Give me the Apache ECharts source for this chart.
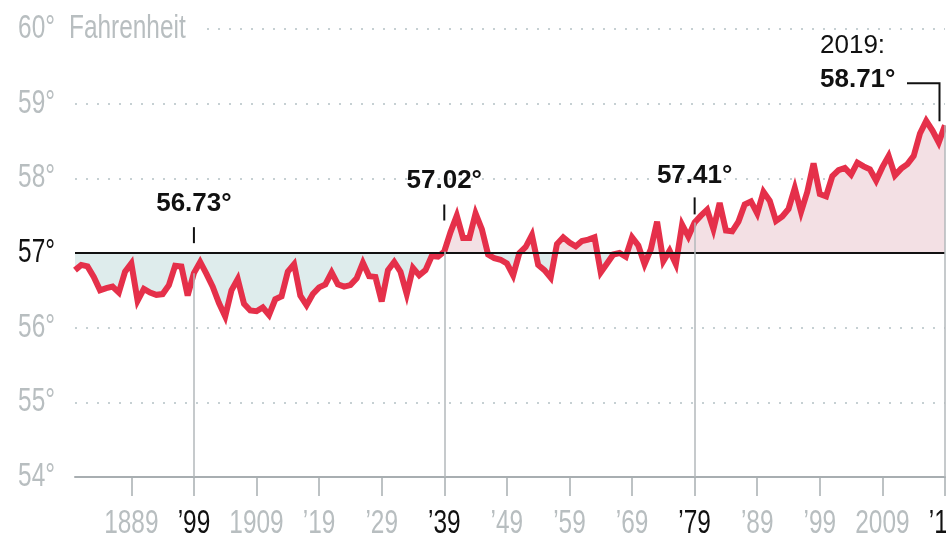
<!DOCTYPE html>
<html><head><meta charset="utf-8">
<script src="https://cdn.jsdelivr.net/npm/echarts@6/dist/echarts.min.js"></script>
<style>html,body{margin:0;padding:0;background:#fff}#c{width:946px;height:541px}</style>
</head><body><div id="c"></div>
<script>
// ---------- data ----------
const startYear = 1880;
const temps = [
  56.77, 56.84, 56.82, 56.68, 56.50, 56.53, 56.55, 56.47, 56.75, 56.86,
  56.36, 56.52, 56.47, 56.44, 56.45, 56.57, 56.83, 56.82, 56.43, 56.73,
  56.88, 56.72, 56.55, 56.33, 56.15, 56.50, 56.65, 56.32, 56.23, 56.22,
  56.27, 56.17, 56.38, 56.42, 56.75, 56.85, 56.43, 56.30, 56.45, 56.54,
  56.58, 56.74, 56.58, 56.55, 56.57, 56.66, 56.87, 56.69, 56.68, 56.35,
  56.77, 56.88, 56.75, 56.45, 56.80, 56.70, 56.77, 56.96, 56.95, 57.02,
  57.28, 57.50, 57.20, 57.20, 57.53, 57.32, 56.98, 56.93, 56.91, 56.86,
  56.70, 57.00, 57.08, 57.24, 56.84, 56.77, 56.67, 57.12, 57.21, 57.14,
  57.09, 57.16, 57.18, 57.21, 56.74, 56.86, 56.98, 57.00, 56.95, 57.21,
  57.10, 56.85, 57.05, 57.42, 56.89, 57.03, 56.85, 57.38, 57.22, 57.41,
  57.50, 57.58, 57.32, 57.67, 57.30, 57.29, 57.42, 57.65, 57.69, 57.53,
  57.82, 57.70, 57.43, 57.49, 57.59, 57.87, 57.55, 57.82, 58.20, 57.79,
  57.76, 58.03, 58.11, 58.14, 58.05, 58.21, 58.16, 58.12, 57.97, 58.15,
  58.30, 58.04, 58.13, 58.19, 58.30, 58.60, 58.77, 58.64, 58.48, 58.71
];
const years = temps.map((_, i) => String(startYear + i));
const tickYears  = [1889, 1899, 1909, 1919, 1929, 1939, 1949, 1959, 1969, 1979, 1989, 1999, 2009, 2019];
const tickLabels = ['1889', '\u201999', '1909', '\u201919', '\u201929', '\u201939', '\u201949', '\u201959', '\u201969', '\u201979', '\u201989', '\u201999', '2009', '\u201919'];
const highlightYears = [1899, 1939, 1979, 2019];
const yTickValues = [54, 55, 56, 57, 58, 59, 60];
const yTickLabels = ['54\u00b0', '55\u00b0', '56\u00b0', '57\u00b0', '58\u00b0', '59\u00b0', '60\u00b0'];
const unitLabel = 'Fahrenheit';
const annoYears  = [1899, 1939, 1979, 2019];
const annoValues = [56.73, 57.02, 57.41, 58.71];
const annoTexts  = ['56.73\u00b0', '57.02\u00b0', '57.41\u00b0', '58.71\u00b0'];
const baseline = 57;
const yMin = 54, yMax = 60;

// ---------- style ----------
const SANS = '"Liberation Sans",Arial,Helvetica,sans-serif';
const AXIS_FONT = '33px ' + SANS;
const SQUEEZE = 0.74;
const GRAY = '#b8bec0';
const INK = '#111111';
const RED = '#e5304a';
const PINK = '#f3e0e4';
const BLUE = '#deecec';
const annoLayout = [
  { tickTop: -46, tickBot: -30, labelY: -69 },
  { tickTop: -47, tickBot: -31, labelY: -71 },
  { tickTop: -25, tickBot: -8,  labelY: -47 },
  null
];

const isTick = (v) => tickYears.indexOf(+v) >= 0;
const chart = echarts.init(document.getElementById('c'), null, { renderer: 'canvas' });

const splitColors = yTickValues.map(v => v === baseline ? 'rgba(0,0,0,0)' : '#c6d0d3');

const option = {
  animation: false,
  backgroundColor: '#ffffff',
  grid: { left: 75, right: 1, top: 29, bottom: 64, containLabel: false, outerBoundsMode: 'none' },
  xAxis: {
    type: 'category',
    data: years,
    boundaryGap: false,
    axisLine: { show: true, lineStyle: { color: '#a8aeb1', width: 2 } },
    axisTick: { show: true, interval: (i, v) => isTick(v), length: 19, lineStyle: { color: '#a8aeb1', width: 1.5 } },
    axisLabel: { show: false },
    splitLine: { show: false }
  },
  yAxis: {
    type: 'value', min: yMin, max: yMax, interval: 1,
    axisLine: { show: false }, axisTick: { show: false },
    axisLabel: { show: false },
    splitLine: { show: true, lineStyle: { color: splitColors, type: [2, 9], width: 2 } }
  },
  series: [
    {
      name: 'area', type: 'line', data: temps, z: 1,
      showSymbol: false, silent: true,
      lineStyle: { width: 0, opacity: 0 },
      areaStyle: { origin: baseline, color: PINK, opacity: 1 }
    },
    {
      name: 'refs', type: 'line', data: [], z: 2, silent: true,
      markLine: {
        silent: true, symbol: ['none', 'none'], animation: false,
        label: { show: false },
        data: [
          { yAxis: baseline, lineStyle: { color: INK, width: 2, type: 'solid' } }
        ].concat(annoYears.map((y, i) => [
          { coord: [String(y), annoValues[i]], lineStyle: { color: '#b3b8bb', width: 1.5, type: 'solid' } },
          { coord: [String(y), yMin] }
        ]))
      }
    },
    {
      name: 'temp', type: 'line', data: temps, z: 3,
      showSymbol: false, symbol: 'none',
      lineStyle: { color: RED, width: 6, join: 'miter', miterLimit: 4 }
    }
  ]
};
chart.setOption(option);

const y0 = chart.convertToPixel({ yAxisIndex: 0 }, baseline);
const H = 541;
const grad = new echarts.graphic.LinearGradient(0, 0, 0, H, [
  { offset: 0, color: PINK }, { offset: y0 / H, color: PINK },
  { offset: y0 / H, color: BLUE }, { offset: 1, color: BLUE }
], true);

const graphics = [];
const axisY = chart.convertToPixel({ yAxisIndex: 0 }, yMin);

// x tick labels (condensed)
tickYears.forEach((yr, i) => {
  const x = chart.convertToPixel({ xAxisIndex: 0 }, String(yr));
  graphics.push({ type: 'text', z: 10, x: x, y: axisY + 47, scaleX: SQUEEZE,
    style: { text: tickLabels[i], fill: highlightYears.indexOf(yr) >= 0 ? INK : GRAY, font: AXIS_FONT, align: 'center', verticalAlign: 'middle' } });
});
// y tick labels (condensed)
yTickValues.forEach((v, i) => {
  const y = chart.convertToPixel({ yAxisIndex: 0 }, v);
  graphics.push({ type: 'text', z: 10, x: 55, y: y, scaleX: SQUEEZE,
    style: { text: yTickLabels[i], fill: v === baseline ? INK : GRAY, font: AXIS_FONT, align: 'right', verticalAlign: 'middle' } });
});
// unit label with white knock-out
const yTop = chart.convertToPixel({ yAxisIndex: 0 }, yMax);
graphics.push({ type: 'text', z: 10, x: 66, y: yTop, scaleX: SQUEEZE,
  style: { text: unitLabel, fill: GRAY, font: AXIS_FONT, align: 'left', verticalAlign: 'middle', backgroundColor: '#fff', padding: [0, 22, 0, 4] } });

annoYears.forEach((yr, i) => {
  const p = chart.convertToPixel({ xAxisIndex: 0, yAxisIndex: 0 }, [String(yr), annoValues[i]]);
  const L = annoLayout[i];
  if (L) {
    graphics.push({ type: 'line', z: 10, shape: { x1: p[0], y1: p[1] + L.tickTop, x2: p[0], y2: p[1] + L.tickBot }, style: { stroke: INK, lineWidth: 2 } });
    graphics.push({ type: 'text', z: 10, x: p[0], y: p[1] + L.labelY,
      style: { text: annoTexts[i], fill: INK, font: 'bold 26px ' + SANS, align: 'center', verticalAlign: 'middle' } });
  } else {
    graphics.push({ type: 'polyline', z: 10, shape: { points: [[p[0] - 38, p[1] - 42], [p[0] - 5.5, p[1] - 42], [p[0] - 5.5, p[1] - 4]] }, style: { stroke: INK, lineWidth: 2, fill: null } });
    graphics.push({ type: 'text', z: 10, x: p[0] - 125, y: p[1] - 45,
      style: { text: annoTexts[i], fill: INK, font: 'bold 26px ' + SANS, align: 'left', verticalAlign: 'middle' } });
    graphics.push({ type: 'text', z: 10, x: p[0] - 125, y: p[1] - 79,
      style: { text: String(yr) + ':', fill: INK, font: '26px ' + SANS, align: 'left', verticalAlign: 'middle' } });
  }
});

chart.setOption({
  series: [{ name: 'area', areaStyle: { color: grad } }],
  graphic: graphics
});
</script>
</body></html>
